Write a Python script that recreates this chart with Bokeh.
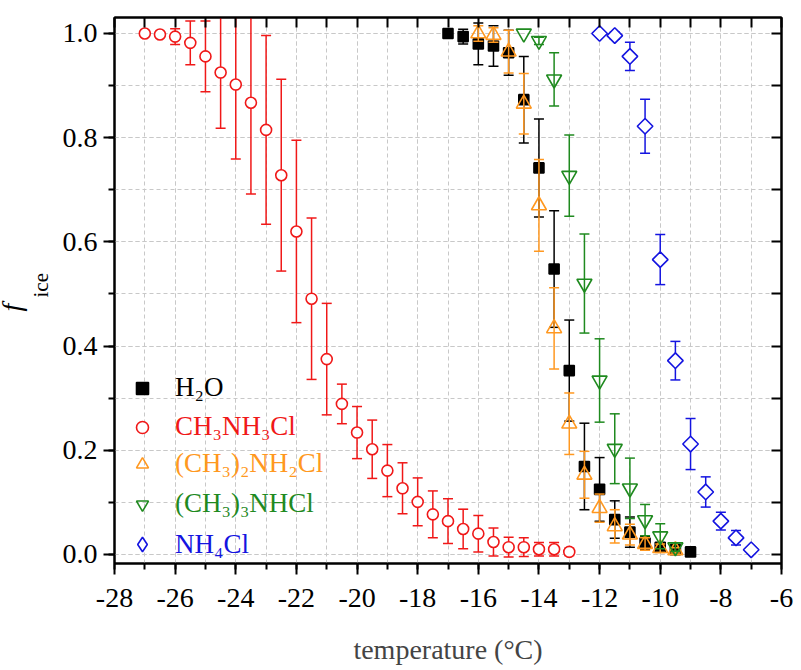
import math
import numpy as np
from bokeh.plotting import figure
from bokeh.models import (ColumnDataSource, Range1d, SingleIntervalTicker, FixedTicker, LinearAxis, Grid,
                          PrintfTickFormatter, Legend, LegendItem, Title)
from bokeh.embed import file_html
from bokeh.resources import INLINE

FONT = "'Liberation Serif', 'Times New Roman', serif"

# ---------------- data ----------------
t_h2o = [-17, -16.5, -16, -15.5, -15, -14.5, -14, -13.5, -13, -12.5, -12, -11.5, -11, -10.5, -10, -9.5, -9]
f_h2o = [1.0, 0.994, 0.98, 0.976, 0.963, 0.873, 0.742, 0.548, 0.353, 0.169, 0.125, 0.067, 0.043, 0.022, 0.014, 0.009, 0.005]
e_h2o = [0, 0.014, 0.04, 0.039, 0.043, 0.083, 0.094, 0.112, 0.097, 0.083, 0.061, 0.036, 0.029, 0.013, 0.008, 0.005, 0]

t_mma = [-27, -26.5, -26, -25.5, -25, -24.5, -24, -23.5, -23, -22.5, -22, -21.5, -21, -20.5, -20,
         -19.5, -19, -18.5, -18, -17.5, -17, -16.5, -16, -15.5, -15, -14.5, -14, -13.5, -13]
f_mma = [1.0, 0.998, 0.994, 0.982, 0.956, 0.925, 0.902, 0.867, 0.815, 0.728, 0.62, 0.491, 0.375, 0.289, 0.234,
         0.202, 0.161, 0.127, 0.101, 0.077, 0.064, 0.049, 0.04, 0.024, 0.014, 0.014, 0.01, 0.01, 0.005]
e_mma = [0, 0.003, 0.015, 0.042, 0.068, 0.107, 0.143, 0.175, 0.181, 0.184, 0.175, 0.155, 0.107, 0.038, 0.05,
         0.056, 0.05, 0.049, 0.046, 0.045, 0.043, 0.038, 0.035, 0.027, 0.019, 0.018, 0.013, 0.013, 0.007]

t_dma = [-16, -15.5, -15, -14.5, -14, -13.5, -13, -12.5, -12, -11.5, -11, -10.5, -10, -9.5]
f_dma = [1.0, 0.997, 0.965, 0.865, 0.67, 0.434, 0.251, 0.153, 0.089, 0.054, 0.038, 0.02, 0.012, 0.008]
e_dma = [0.015, 0.014, 0.041, 0.058, 0.088, 0.078, 0.059, 0.045, 0.027, 0.032, 0.02, 0.012, 0.008, 0.005]

t_tma = [-14.5, -14, -13.5, -13, -12.5, -12, -11.5, -11, -10.5, -10, -9.5]
f_tma = [1.0, 0.986, 0.912, 0.727, 0.52, 0.334, 0.203, 0.127, 0.066, 0.035, 0.014]
e_tma = [0, 0.007, 0.051, 0.078, 0.095, 0.08, 0.067, 0.058, 0.03, 0.024, 0.008]

t_am = [-12, -11.5, -11, -10.5, -10, -9.5, -9, -8.5, -8, -7.5, -7]
f_am = [1.0, 0.996, 0.956, 0.822, 0.566, 0.372, 0.212, 0.12, 0.064, 0.032, 0.009]
e_am = [0, 0.007, 0.027, 0.052, 0.048, 0.037, 0.049, 0.029, 0.017, 0.014, 0.005]

labels = ["H\u2082O", "CH\u2083NH\u2083Cl", "(CH\u2083)\u2082NH\u2082Cl", "(CH\u2083)\u2083NHCl", "NH\u2084Cl"]
x_label = "temperature (\u00b0C)"
y_label_main = "f"
y_label_sub = "ice"

X_MIN, X_MAX = -28, -6
Y_MIN, Y_MAX = -0.0173, 1.0307

# ---------------- figure ----------------
p = figure(width=795, height=668, output_backend="svg", toolbar_location=None,
           x_range=Range1d(X_MIN, X_MAX), y_range=Range1d(Y_MIN, Y_MAX),
           min_border_left=107, min_border_right=14, min_border_top=17, min_border_bottom=105,
           x_axis_type=None, y_axis_type=None)
p.background_fill_color = "white"
p.border_fill_color = "white"
p.outline_line_color = "black"
p.outline_line_width = 2

xt = SingleIntervalTicker(interval=2, num_minor_ticks=2)
yt = SingleIntervalTicker(interval=0.2, num_minor_ticks=2)

def style_axis(ax):
    ax.axis_line_width = 2
    ax.major_tick_line_width = 2
    ax.minor_tick_line_width = 2
    ax.axis_line_color = "black"
    ax.major_tick_line_color = "black"
    ax.minor_tick_line_color = "black"
    ax.major_label_text_font = FONT
    ax.major_label_text_color = "black"
    ax.major_label_text_font_size = "28px"
    ax.major_tick_out = 11
    ax.major_tick_in = 0
    ax.minor_tick_out = 6
    ax.minor_tick_in = 0

xb = LinearAxis(ticker=xt, formatter=PrintfTickFormatter(format="%d"))
style_axis(xb)
xb.major_label_standoff = 14
xb.axis_label = x_label
xb.axis_label_text_font = FONT
xb.axis_label_text_font_size = "28px"
xb.axis_label_text_font_style = "normal"
xb.axis_label_standoff = 24
p.add_layout(xb, "below")

yl = LinearAxis(ticker=yt, formatter=PrintfTickFormatter(format="%.1f"))
style_axis(yl)
yl.major_label_standoff = 6
p.add_layout(yl, "left")

# y label: italic f with subscript "ice" (titles stacked outward from the axis)
t_sub = Title(text=y_label_sub, align="left", offset=266, standoff=13,
              text_font=FONT, text_font_size="21px", text_font_style="normal", text_color="black")
t_main = Title(text=y_label_main, align="left", offset=252, standoff=-13,
               text_font=FONT, text_font_size="28px", text_font_style="italic", text_color="black")
p.add_layout(t_sub, "left")
p.add_layout(t_main, "left")

# inward ticks on the top and right frame edges (no labels)
top_ticks = FixedTicker(ticks=[], minor_ticks=list(np.arange(X_MIN, X_MAX + 1, 1)))
right_ticks = FixedTicker(ticks=[], minor_ticks=list(np.round(np.arange(0, 1.05, 0.1), 1)))
for tk, side in ((top_ticks, "above"), (right_ticks, "right")):
    ax = LinearAxis(ticker=tk)
    ax.axis_line_width = 2
    ax.axis_line_color = "black"
    ax.minor_tick_line_width = 2
    ax.minor_tick_line_color = "black"
    ax.minor_tick_in = 10
    ax.minor_tick_out = 0
    ax.major_tick_in = 0
    ax.major_tick_out = 0
    ax.major_label_standoff = 0
    p.add_layout(ax, side)

for dim, tk in ((0, xt), (1, yt)):
    g = Grid(dimension=dim, ticker=tk)
    g.grid_line_color = "#c8c8c8"
    g.grid_line_dash = "4 3"
    g.grid_line_width = 1
    g.minor_grid_line_color = "#c8c8c8"
    g.minor_grid_line_dash = "4 3"
    g.minor_grid_line_width = 1
    p.add_layout(g)

# ---------------- series ----------------
RED, BLACK, ORANGE, GREEN, BLUE = "#f01818", "black", "#ff9820", "#1f8a1f", "#1414e0"

def add_series(T, F, E, color, marker, size, fill, angle=0.0, fill_alpha=1.0, legend_marker=None):
    T = np.asarray(T, float); F = np.asarray(F, float); E = np.asarray(E, float)
    m = E > 0
    es = ColumnDataSource(dict(x=T[m], lo=F[m] - E[m], hi=F[m] + E[m]))
    p.segment(x0="x", y0="lo", x1="x", y1="hi", source=es, line_color=color, line_width=1.5)
    p.scatter(x="x", y="lo", source=es, marker="dash", size=10, line_color=color, line_width=1.5)
    p.scatter(x="x", y="hi", source=es, marker="dash", size=10, line_color=color, line_width=1.5)
    src = ColumnDataSource(dict(x=T, y=F))
    leg_r = None
    if legend_marker is not None:
        # drawn underneath the visible markers (fully covered); supplies the legend symbol
        leg_r = p.scatter(x="x", y="y", source=src, marker=legend_marker, size=12,
                          line_color=color, line_width=1.6, fill_color=fill)
    r = p.scatter(x="x", y="y", source=src, marker=marker, size=size, angle=angle,
                  line_color=color, line_width=1.6, fill_color=fill, fill_alpha=fill_alpha)
    return leg_r if leg_r is not None else r

r_mma = add_series(t_mma, f_mma, e_mma, RED, "circle", 11, "white")
r_h2o = add_series(t_h2o, f_h2o, e_h2o, BLACK, "square", 10, "black")
r_dma = add_series(t_dma, f_dma, e_dma, ORANGE, "triangle", 15, None, fill_alpha=0)
r_tma = add_series(t_tma, f_tma, e_tma, GREEN, "inverted_triangle", 15, None, fill_alpha=0)
r_am = add_series(t_am, f_am, e_am, BLUE, "square", 11, "white", angle=math.pi / 4,
                  legend_marker="diamond")

# ---------------- legend ----------------
centers = [176, 137, 100, 60, 20]
rends = [r_h2o, r_mma, r_dma, r_tma, r_am]
cols = [BLACK, RED, ORANGE, GREEN, BLUE]
for lab, rr, cc, yc in zip(labels, rends, cols, centers):
    gw = 36 if rr is r_am else 30
    lg = Legend(items=[LegendItem(label=lab, renderers=[rr])], location=(28 - gw // 2, yc - gw // 2 - 1),
                border_line_color=None, background_fill_alpha=0, padding=0, margin=0,
                glyph_width=gw, glyph_height=gw, label_standoff=33 - gw // 2, label_height=gw,
                label_text_font=FONT, label_text_font_size="27px", label_text_color=cc)
    p.add_layout(lg)

open("out.html", "w").write(file_html(p, INLINE))
